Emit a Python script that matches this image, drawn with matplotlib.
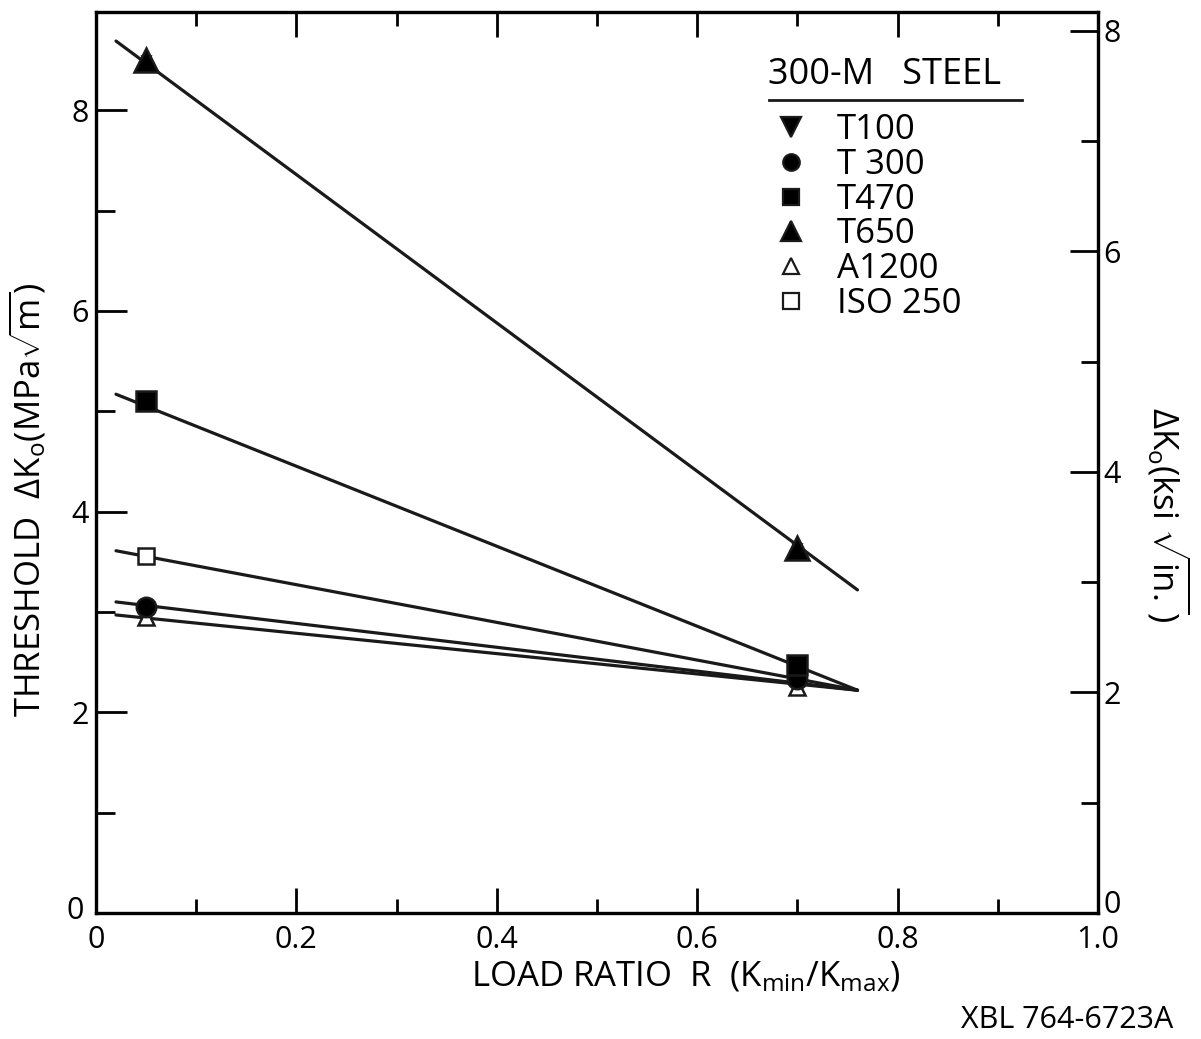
import matplotlib
matplotlib.use('Agg')
import matplotlib.pyplot as plt
from matplotlib.lines import Line2D
from matplotlib.ticker import MultipleLocator
from matplotlib.transforms import ScaledTranslation

plt.rcParams['font.family'] = ['Open Sans', 'DejaVu Sans']
plt.rcParams['mathtext.fontset'] = 'custom'
plt.rcParams['mathtext.rm'] = 'Open Sans'
plt.rcParams['mathtext.it'] = 'Open Sans'

MPA_PER_KSI = 1.0988

# measured points: load ratio R and threshold dK0 (MPa sqrt m)
r_pts = [0.05, 0.70]
t100 = [8.50, 3.64]
t300 = [3.05, 2.33]
t470 = [5.10, 2.47]
t650 = [8.50, 3.64]
a1200 = [2.95, 2.25]
iso250 = [3.56, 2.40]

# fitted lines drawn through the data
fit_r = [0.02, 0.76]
fit_t650 = [8.69, 3.22]
fit_t470 = [5.17, 2.22]
fit_iso250 = [3.61, 2.22]
fit_t300 = [3.10, 2.22]
fit_a1200 = [2.97, 2.22]

labels = ['T100', 'T 300', 'T470', 'T650', 'A1200', 'ISO 250']
# (values, marker, face colour, size, zorder)
series = [
    (t100, 'v', 'k', 6, 4),
    (t300, 'o', 'k', 14, 5),
    (t470, 's', 'k', 14, 5),
    (t650, '^', 'k', 17, 5),
    (a1200, '^', 'white', 12, 3),
    (iso250, 's', 'white', 12, 3),
]

fig = plt.figure(figsize=(12.01, 10.39), dpi=100)
ax = fig.add_axes([0.0799, 0.1213, 0.8343, 0.8672])

lw = 2.3
for fy in [fit_t650, fit_t470, fit_iso250, fit_t300, fit_a1200]:
    ax.plot(fit_r, fy, color='#1a1a1a', lw=lw, solid_capstyle='round', zorder=2)

for vals, mk, fc, ms, z in series:
    ax.plot(r_pts, vals, linestyle='none', marker=mk, markersize=ms,
            markerfacecolor=fc, markeredgecolor='#1a1a1a', markeredgewidth=1.8, zorder=z)

ax.set_xlim(0, 1.0)
ax.set_ylim(0, 8.98)
ax.xaxis.set_minor_locator(MultipleLocator(0.1))
ax.set_yticks([0, 2, 4, 6, 8])
ax.yaxis.set_minor_locator(MultipleLocator(1))
ax.set_xticks([0, 0.2, 0.4, 0.6, 0.8, 1.0])
ax.set_xticklabels(['0', '0.2', '0.4', '0.6', '0.8', '1.0'])
ax.tick_params(axis='x', which='major', direction='in', length=18, width=2, top=True,
               labelsize=22, pad=9)
ax.tick_params(axis='x', which='minor', direction='in', length=10, width=2, top=True)
ax.tick_params(axis='y', which='major', direction='in', length=22, width=2,
               labelsize=22, pad=5)
ax.tick_params(axis='y', which='minor', direction='in', length=14, width=2)
for s in ax.spines.values():
    s.set_linewidth(2.3)
    s.set_color('#1a1a1a')
left_zero = ax.yaxis.get_major_ticks()[0].label1
left_zero.set_transform(left_zero.get_transform() + ScaledTranslation(-4 / 72, 4 / 72, fig.dpi_scale_trans))

ax2 = ax.twinx()
ax2.set_ylim(0, 8.98 / MPA_PER_KSI)
ax2.set_yticks([0, 2, 4, 6, 8])
ax2.yaxis.set_minor_locator(MultipleLocator(1))
ax2.tick_params(axis='y', which='major', direction='in', length=20, width=2,
                labelsize=22, pad=4)
ax2.tick_params(axis='y', which='minor', direction='in', length=12, width=2)
for s in ax2.spines.values():
    s.set_linewidth(2.3)
zero_lab = ax2.yaxis.get_major_ticks()[0].label2
zero_lab.set_transform(zero_lab.get_transform() + ScaledTranslation(0, 8 / 72, fig.dpi_scale_trans))

ax.set_xlabel(r'LOAD RATIO  R  (K$_{\mathrm{min}}$/K$_{\mathrm{max}}$)', fontsize=25)
ax.xaxis.set_label_coords(0.589, -0.052)
ax.set_ylabel(r'THRESHOLD  $\Delta$K$_{\mathrm{o}}$(MPa$\sqrt{\mathrm{m}}$)', fontsize=25)
ax.yaxis.set_label_coords(-0.048, 0.458)
ax2.set_ylabel(r'$\Delta$K$_{\mathrm{o}}$(ksi $\sqrt{\mathrm{in.}}$)', fontsize=25,
               rotation=-90)
ax2.yaxis.set_label_coords(1.094, 0.442)

handles = []
for vals, mk, fc, ms, z in series:
    hs = 14 if mk == 'v' else (ms * 0.85 if fc == 'k' else ms * 0.95)
    handles.append(Line2D([], [], linestyle='none', marker=mk, markersize=hs,
                          markerfacecolor=fc, markeredgecolor='#1a1a1a', markeredgewidth=1.6))
ax.legend(handles, labels, loc='upper left', bbox_to_anchor=(0.675, 0.8875),
          frameon=False, fontsize=25, labelspacing=0.02, handletextpad=0.75,
          handlelength=1.1, borderpad=0, borderaxespad=0)
ax.text(0.671, 0.930, '300-M   STEEL', transform=ax.transAxes, fontsize=26,
        va='center', ha='left')
ax.plot([0.672, 0.924], [0.902, 0.902], transform=ax.transAxes, color='#1a1a1a',
        lw=2, clip_on=False)

fig.text(0.80, 0.018, 'XBL 764-6723A', fontsize=22, va='center')

fig.savefig('out.png', dpi=100)
